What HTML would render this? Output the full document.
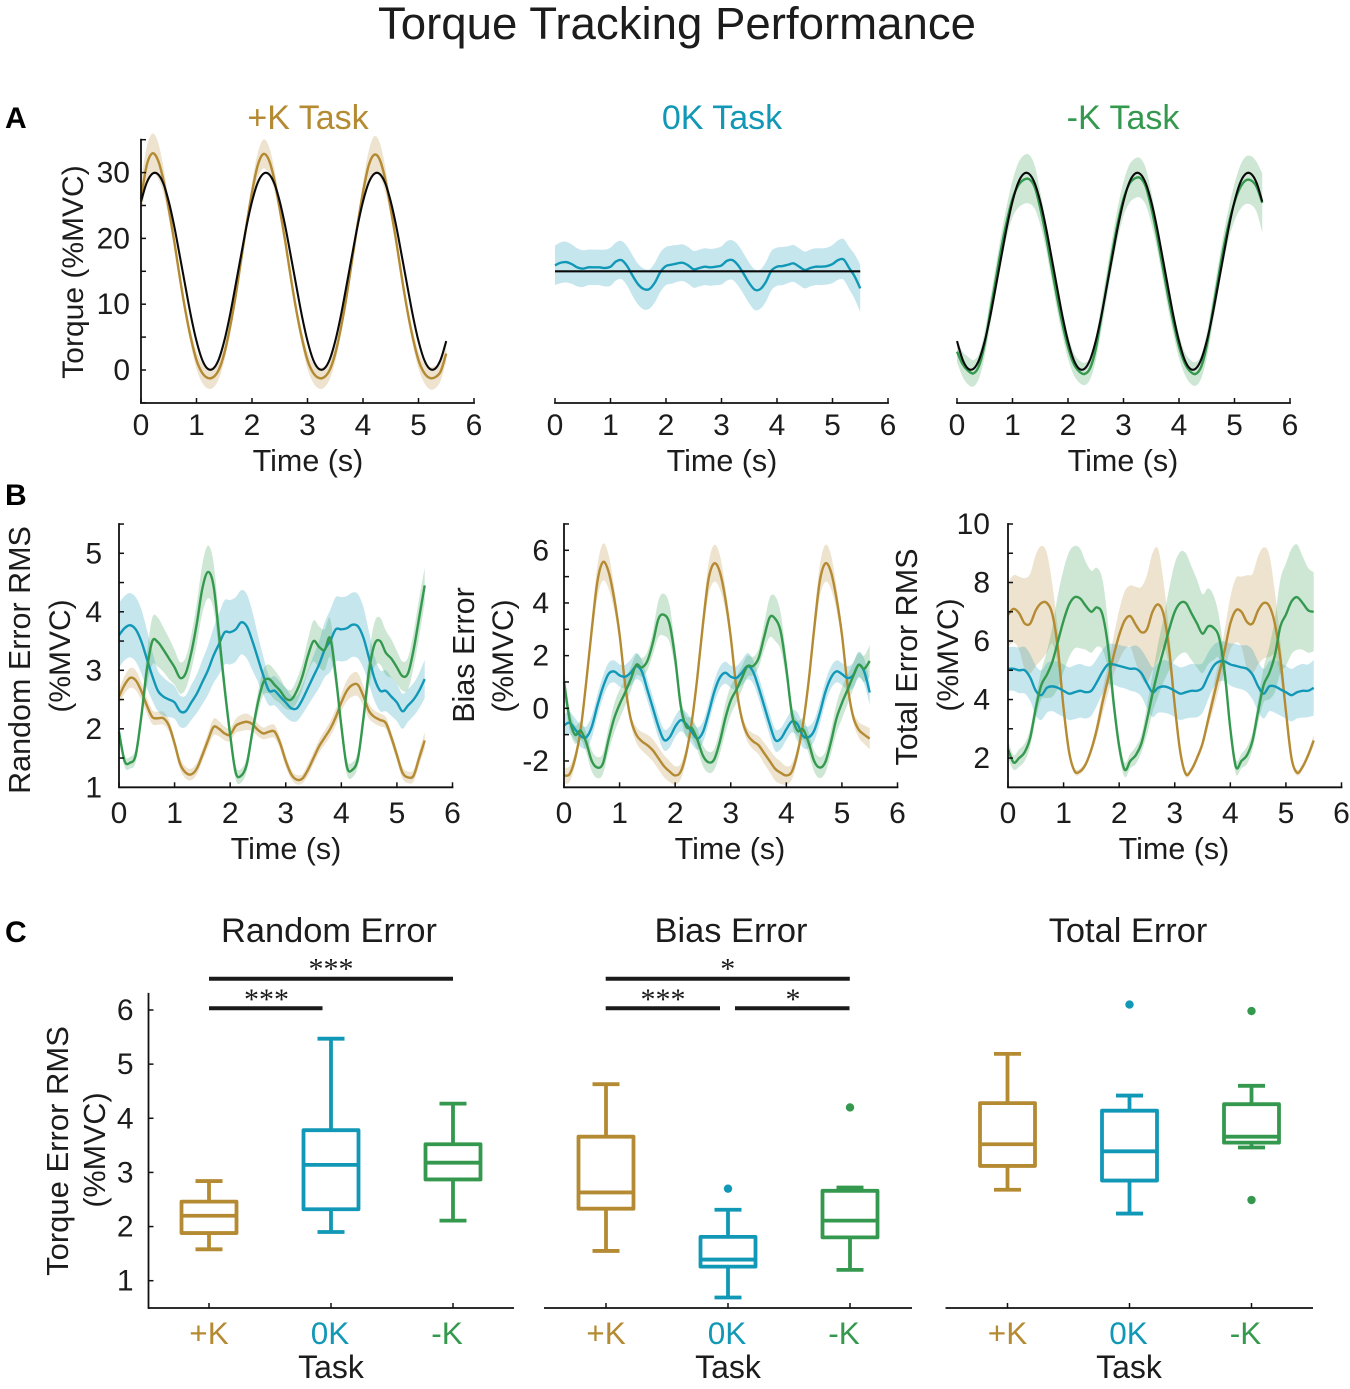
<!DOCTYPE html>
<html lang="en">
<head>
<meta charset="utf-8">
<title>Torque Tracking Performance</title>
<style>
html,body{margin:0;padding:0;background:#fff;}
svg{display:block;font-family:"Liberation Sans",sans-serif;}
</style>
</head>
<body>
<svg id="fig" xmlns="http://www.w3.org/2000/svg" width="1350" height="1389" viewBox="0 0 1350 1389"></svg>
<script>
// ---------- shared categories and tick labels ----------
const timeS=[0,.1,.2,.3,.4,.5,.6,.7,.8,.9,1,1.1,1.2,1.3,1.4,1.5,1.6,1.7,1.8,1.9,2,2.1,2.2,2.3,2.4,2.5,2.6,2.7,2.8,2.9,3,3.1,3.2,3.3,3.4,3.5,3.6,3.7,3.8,3.9,4,4.1,4.2,4.3,4.4,4.5,4.6,4.7,4.8,4.9,5,5.1,5.2,5.3,5.4,5.5];
const timeTicks=[0,1,2,3,4,5,6];
const tasks=['+K','0K','-K'];

// ---------- panel A: torque ----------
const aPlusTarget=[25.6,28.4,29.8,29.8,28.4,25.6,21.8,17.3,12.7,8.2,4.4,1.6,.2,.2,1.6,4.4,8.2,12.7,17.3,21.8,25.6,28.4,29.8,29.8,28.4,25.6,21.8,17.3,12.7,8.2,4.4,1.6,.2,.2,1.6,4.4,8.2,12.7,17.3,21.8,25.6,28.4,29.8,29.8,28.4,25.6,21.8,17.3,12.7,8.2,4.4,1.6,.2,.2,1.6,4.4];
const aPlusMean=[26,31,32.9,32,29,24.5,19.5,14,9,4.8,1.5,-.4,-1.2,-1.1,0,2.5,6.3,11,16.5,22,27,31,32.8,32,29,24.5,19.5,14,9,4.8,1.5,-.4,-1.2,-1.1,0,2.5,6.3,11,16.5,22,27,31,32.7,32,29,24.5,19.5,14,9,4.8,1.5,-.4,-1.2,-1.1,-.2,2.5];
const aPlusSd=[2.5,2.8,3,2.8,2,1.3,1,.9,1,1.1,1.3,1.5,1.6,1.6,1.4,1.2,1,.9,.9,1,1.4,1.9,2.2,2.1,1.7,1.2,1,.9,1,1.1,1.3,1.5,1.6,1.6,1.4,1.2,1,.9,.9,1,1.5,2.2,2.8,2.6,1.9,1.2,1,.9,1,1.1,1.3,1.5,1.7,1.7,1.4,1.2];
const aZeroTarget=[15,15,15,15,15,15,15,15,15,15,15,15,15,15,15,15,15,15,15,15,15,15,15,15,15,15,15,15,15,15,15,15,15,15,15,15,15,15,15,15,15,15,15,15,15,15,15,15,15,15,15,15,15,15,15,15];
const aZeroMean=[15.9,16.3,16.4,16.1,15.6,15.4,15.6,15.6,15.6,15.5,15.7,16.5,16.7,15.8,14.3,13,12.3,12.3,13.3,14.9,15.8,16,16.2,16.3,15.9,15.3,15.5,15.7,15.6,15.7,15.9,16.6,16.7,15.9,14.6,13.2,12.2,12.3,13.4,15.1,15.7,15.8,16,16.2,15.7,15.2,15.5,15.7,15.7,15.8,16.1,16.7,16.8,15.5,14.2,12.4];
const aZeroSd=[3,3.1,3.1,3,2.9,2.8,2.7,2.7,2.7,2.8,2.9,2.9,2.9,3,3.1,3.1,3.1,3,3,3,2.9,2.9,2.8,2.8,2.8,2.8,2.8,2.8,2.8,2.8,2.9,3,3,3.1,3.1,3.1,3.1,3,3,3,2.9,2.9,2.8,2.8,2.8,2.8,2.8,2.8,2.8,2.8,2.9,3,3.1,3.2,3.4,3.6];
const aMinusTarget=[4.4,1.6,.2,.2,1.6,4.4,8.2,12.7,17.3,21.8,25.6,28.4,29.8,29.8,28.4,25.6,21.8,17.3,12.7,8.2,4.4,1.6,.2,.2,1.6,4.4,8.2,12.7,17.3,21.8,25.6,28.4,29.8,29.8,28.4,25.6,21.8,17.3,12.7,8.2,4.4,1.6,.2,.2,1.6,4.4,8.2,12.7,17.3,21.8,25.6,28.4,29.8,29.8,28.4,25.6];
const aMinusMean=[2.8,.9,-.1,-.5,.7,4,8.9,13.8,18.6,22.7,26,28,28.9,29,27.8,24.6,20.5,15.8,11.2,7,3.5,1,-.2,-.6,.3,3.2,8,13,18,22.5,26,28.2,29.1,29.2,27.9,24.7,20.6,16,11.4,7.2,3.6,1.1,-.2,-.6,.5,3.7,8.6,13.6,18.4,22.4,25.5,27.7,28.8,28.8,27.8,25.4];
const aMinusSd=[1.6,1.9,2.1,2,1.9,1.9,2,2.1,2.2,2.4,2.8,3.4,3.7,3.7,3.3,2.5,2,1.9,1.9,1.8,1.8,1.7,1.7,1.7,1.7,1.8,2,2.1,2.2,2.4,2.6,2.9,3,3,2.8,2.4,2,1.9,1.9,1.8,1.8,1.7,1.8,1.8,1.8,1.9,2,2.1,2.2,2.4,2.8,3.3,3.6,3.7,3.8,4.5];

// ---------- panel B: random error ----------
const bRandomPlusMean=[2.55,2.75,2.87,2.83,2.65,2.4,2.2,2.18,2.18,2.05,1.75,1.4,1.25,1.22,1.32,1.55,1.8,2.03,2,1.92,1.9,2.05,2.1,2.12,2.08,1.98,1.92,1.95,1.95,1.75,1.45,1.22,1.13,1.15,1.3,1.5,1.7,1.85,2,2.2,2.45,2.65,2.75,2.75,2.55,2.3,2.2,2.15,2.1,1.85,1.55,1.25,1.17,1.2,1.5,1.8];
const bRandomPlusSd=[.13,.15,.17,.17,.15,.13,.12,.11,.11,.1,.1,.1,.1,.1,.1,.1,.12,.14,.13,.12,.11,.12,.14,.14,.12,.11,.1,.11,.11,.1,.1,.08,.08,.08,.1,.1,.11,.12,.13,.14,.15,.18,.2,.2,.17,.13,.11,.11,.1,.1,.1,.1,.1,.1,.12,.14];
const bRandomZeroMean=[3.6,3.72,3.77,3.7,3.5,3.2,2.9,2.65,2.55,2.5,2.45,2.3,2.3,2.45,2.6,2.8,3,3.25,3.45,3.65,3.65,3.7,3.82,3.75,3.5,3.2,2.9,2.65,2.65,2.55,2.45,2.35,2.35,2.5,2.7,2.9,3.1,3.35,3.5,3.7,3.7,3.72,3.78,3.75,3.55,3.2,2.85,2.65,2.65,2.55,2.45,2.3,2.4,2.5,2.65,2.85];
const bRandomZeroSd=[.55,.55,.55,.55,.55,.5,.42,.35,.33,.3,.28,.27,.27,.3,.33,.38,.42,.47,.52,.55,.55,.55,.55,.55,.5,.4,.32,.25,.25,.25,.25,.22,.22,.25,.3,.35,.4,.47,.53,.55,.55,.55,.55,.55,.52,.45,.38,.35,.35,.33,.32,.3,.28,.28,.3,.33];
const bRandomMinusMean=[1.95,1.45,1.42,1.55,2.2,3,3.5,3.48,3.35,3.2,3.05,2.87,2.95,3.3,3.8,4.4,4.68,4.45,3.6,2.7,1.9,1.25,1.2,1.4,1.95,2.45,2.8,2.85,2.75,2.65,2.52,2.5,2.65,2.9,3.25,3.5,3.4,3.35,3.55,2.9,2.05,1.35,1.3,1.5,2.2,3,3.45,3.5,3.3,3.2,3.05,2.9,2.95,3.35,3.9,4.45];
const bRandomMinusSd=[.1,.1,.1,.12,.15,.28,.4,.42,.38,.35,.3,.27,.27,.3,.35,.42,.45,.4,.3,.2,.15,.12,.12,.12,.14,.18,.22,.25,.25,.22,.18,.17,.2,.22,.28,.35,.35,.35,.33,.2,.15,.13,.13,.13,.18,.28,.38,.4,.38,.33,.28,.25,.27,.3,.33,.3];

// ---------- panel B: bias error ----------
const bBiasPlusMean=[-2.55,-2.5,-1.9,-.8,1,3,4.8,5.55,5.2,4.2,2.8,.9,-.4,-1,-1.25,-1.4,-1.6,-1.9,-2.2,-2.4,-2.55,-2.4,-1.7,-.5,1.2,3.2,4.9,5.5,5.2,4.2,2.7,.8,-.4,-1,-1.25,-1.4,-1.7,-2,-2.3,-2.45,-2.55,-2.4,-1.7,-.6,1,3,4.8,5.5,5.2,4.2,2.8,.9,-.3,-.8,-1,-1.15];
const bBiasPlusSd=[.3,.3,.25,.2,.25,.4,.6,.7,.65,.45,.3,.2,.2,.3,.35,.4,.42,.42,.42,.4,.35,.3,.25,.2,.25,.4,.6,.7,.65,.45,.3,.2,.2,.25,.3,.35,.4,.42,.45,.42,.35,.3,.25,.2,.25,.4,.6,.7,.65,.45,.3,.2,.2,.3,.35,.4];
const bBiasZeroMean=[-.65,-.55,-.8,-1.05,-1.1,-.7,.1,.8,1.3,1.4,1.25,1.2,1.35,1.6,1.4,.7,0,-.7,-1.2,-1.1,-.7,-.45,-.6,-.9,-1.15,-.9,-.2,.6,1.15,1.35,1.2,1.15,1.35,1.6,1.4,.8,.1,-.6,-1.2,-1.15,-.8,-.5,-.6,-1.05,-1.1,-.85,-.2,.6,1.15,1.4,1.3,1.15,1.25,1.65,1.4,.6];
const bBiasZeroSd=[.42,.42,.42,.42,.42,.42,.42,.42,.42,.42,.42,.45,.5,.5,.45,.42,.42,.42,.4,.4,.4,.42,.45,.45,.42,.4,.4,.42,.42,.42,.42,.45,.48,.5,.45,.42,.42,.42,.42,.4,.4,.42,.45,.45,.42,.4,.42,.42,.42,.42,.42,.45,.48,.5,.48,.45];
const bBiasMinusMean=[1,-.4,-1,-.85,-1.3,-2,-2.25,-2.1,-1.2,-.4,.15,.6,1.1,1.65,1.55,1.8,2.5,3.4,3.55,3.2,1.9,.1,-.7,-.75,-1.2,-1.8,-2.05,-1.95,-1.3,-.4,.3,.7,1.15,1.6,1.6,1.9,2.7,3.45,3.4,2.9,1.5,-.2,-.85,-.8,-1.3,-2,-2.25,-2.05,-1.3,-.4,.2,.7,1.2,1.65,1.5,1.8];
const bBiasMinusSd=[.5,.4,.35,.35,.38,.4,.4,.4,.45,.55,.55,.5,.45,.4,.35,.35,.45,.7,.8,.7,.45,.35,.4,.4,.4,.4,.4,.4,.45,.55,.55,.5,.45,.4,.35,.35,.5,.75,.85,.7,.45,.35,.4,.4,.4,.4,.4,.4,.45,.55,.6,.55,.5,.45,.5,.6];

// ---------- panel B: total error ----------
const bTotalPlusMean=[6.9,7.1,6.95,6.6,6.6,7.05,7.3,7.3,6.9,5.7,3.7,2.2,1.55,1.55,1.8,2.3,3,3.9,4.7,5.5,6.2,6.7,6.85,6.55,6.3,6.4,7,7.25,6.9,5.7,3.8,2.2,1.45,1.6,2,2.5,3.3,4.1,4.9,5.7,6.6,7.05,7,6.65,6.6,7.05,7.3,7.2,6.6,5.4,3.6,2,1.5,1.7,2.1,2.6];
const bTotalPlusSd=[1.1,1.15,1.25,1.55,1.7,1.9,1.95,1.7,1,.6,.3,.15,.1,.1,.1,.15,.25,.4,.5,.65,.85,1,1.05,1.3,1.55,1.85,2,1.9,1.1,.6,.3,.15,.1,.1,.12,.15,.25,.4,.5,.7,.9,1.1,1.2,1.6,1.7,1.85,1.9,1.75,1.1,.6,.3,.15,.1,.1,.12,.2];
const bTotalZeroMean=[5.05,5.05,5,5,4.75,4.3,4.15,4.4,4.45,4.4,4.3,4.2,4.25,4.3,4.25,4.3,4.6,4.95,5.2,5.2,5.15,5.1,5.05,5.05,4.9,4.55,4.25,4.4,4.45,4.4,4.3,4.2,4.25,4.3,4.3,4.4,4.8,5.15,5.3,5.3,5.2,5.15,5.1,5.05,4.85,4.45,4.2,4.45,4.45,4.35,4.25,4.15,4.25,4.3,4.3,4.4];
const bTotalZeroSd=[.75,.75,.78,.8,.8,.85,.85,.85,.85,.9,.9,.9,.92,.92,.9,.85,.8,.75,.7,.7,.72,.72,.75,.8,.8,.85,.85,.85,.9,.9,.9,.9,.9,.92,.9,.85,.8,.72,.68,.68,.72,.75,.75,.8,.85,.85,.85,.85,.9,.9,.9,.9,.9,.92,.9,.95];
const bTotalMinusMean=[2.3,1.85,2,2.2,2.7,3.7,4.5,4.85,5.3,6,6.7,7.25,7.5,7.45,7.2,7,7.15,6.9,5.8,3.9,2.4,1.6,1.9,2.1,2.5,3.3,4.2,5,5.7,6.4,7,7.3,7.3,6.95,6.6,6.25,6.5,6.45,6.1,4.9,3,1.7,1.9,2.1,2.6,3.6,4.5,4.9,5.5,6.5,6.9,7.35,7.5,7.3,7.05,7];
const bTotalMinusSd=[.3,.25,.3,.3,.3,.35,.5,.8,1.2,1.6,1.75,1.8,1.75,1.7,1.5,1.4,1.35,1.2,.8,.4,.3,.25,.25,.3,.3,.5,.65,.9,1.1,1.4,1.65,1.75,1.7,1.6,1.5,1.35,1.3,1.1,.7,.4,.3,.25,.25,.3,.3,.4,.6,.9,1.25,1.6,1.75,1.8,1.8,1.6,1.45,1.35];

// ---------- panel C: box plot statistics ----------
const cRandomHigh=[2.84,5.47,4.27];
const cRandomQ3=[2.46,3.78,3.52];
const cRandomMedian=[2.2,3.14,3.18];
const cRandomQ1=[1.88,2.32,2.87];
const cRandomLow=[1.58,1.9,2.11];
const cRandomOutliers=[[],[],[]];
const cBiasHigh=[4.63,2.31,2.72];
const cBiasQ3=[3.66,1.81,2.66];
const cBiasMedian=[2.63,1.39,2.11];
const cBiasQ1=[2.33,1.26,1.8];
const cBiasLow=[1.55,.69,1.2];
const cBiasOutliers=[[],[2.7],[4.2]];
const cTotalHigh=[5.19,4.42,4.6];
const cTotalQ3=[4.28,4.14,4.26];
const cTotalMedian=[3.52,3.39,3.66];
const cTotalQ1=[3.12,2.85,3.55];
const cTotalLow=[2.68,2.24,3.46];
const cTotalOutliers=[[],[6.1],[5.98,2.49]];

// ---------- styling ----------
const ORANGE='#b48a32', BLUE='#1198b6', GREEN='#34994e', INK='#1c1c1c', AXIS='#111111';
const taskColors=[ORANGE,BLUE,GREEN];
const labelOffsets=[0,-1,-6];
const svg=document.getElementById('fig');
const NS='http://www.w3.org/2000/svg';

function addText(str,x,y,size,fill,anchor,name,rot,weight,family){
  const t=document.createElementNS(NS,'text');
  
  
  t.setAttribute('x',x);
  t.setAttribute('y',y);
  t.setAttribute('font-size',size);
  t.setAttribute('fill',fill);
  t.setAttribute('text-anchor',anchor);
  if(rot!==undefined&&rot!==null)t.setAttribute('transform','rotate('+rot+' '+x+' '+y+')');
  if(weight)t.setAttribute('font-weight',weight);
  if(family)t.setAttribute('font-family',family);
  t.textContent=str;
  svg.appendChild(t);
  return t;
}
function addLine(x1,y1,x2,y2,stroke,w,name){
  const l=document.createElementNS(NS,'line');
  
  
  l.setAttribute('x1',x1);
  l.setAttribute('y1',y1);
  l.setAttribute('x2',x2);
  l.setAttribute('y2',y2);
  l.setAttribute('stroke',stroke);
  l.setAttribute('stroke-width',w);
  svg.appendChild(l);
  return l;
}
function smoothSegs(pts,move){
  let d=(move?'M':'L')+pts[0][0].toFixed(2)+' '+pts[0][1].toFixed(2);
  for(let i=0;i<pts.length-1;i++){
    const p0=pts[Math.max(i-1,0)],p1=pts[i],p2=pts[i+1],p3=pts[Math.min(i+2,pts.length-1)];
    const c1x=p1[0]+(p2[0]-p0[0])/6,c1y=p1[1]+(p2[1]-p0[1])/6;
    const c2x=p2[0]-(p3[0]-p1[0])/6,c2y=p2[1]-(p3[1]-p1[1])/6;
    d+='C'+c1x.toFixed(2)+' '+c1y.toFixed(2)+' '+c2x.toFixed(2)+' '+c2y.toFixed(2)+' '+p2[0].toFixed(2)+' '+p2[1].toFixed(2);
  }
  return d;
}
function addBand(xs,ys,mean,sd,color,name){
  const upper=timeS.map((t,i)=>[xs(t),ys(mean[i]+sd[i])]);
  const lower=timeS.map((t,i)=>[xs(t),ys(mean[i]-sd[i])]).reverse();
  const p=document.createElementNS(NS,'path');
  
  
  p.setAttribute('d',smoothSegs(upper,true)+smoothSegs(lower,false)+'Z');
  p.setAttribute('fill',color);
  p.setAttribute('fill-opacity','0.24');
  svg.appendChild(p);
}
function addCurve(xs,ys,mean,color,w,name){
  const pts=timeS.map((t,i)=>[xs(t),ys(mean[i])]);
  const p=document.createElementNS(NS,'path');
  
  
  p.setAttribute('d',smoothSegs(pts,true));
  p.setAttribute('fill','none');
  p.setAttribute('stroke',color);
  p.setAttribute('stroke-width',w);
  svg.appendChild(p);
}
function linear(d0,d1,r0,r1){return v=>r0+(v-d0)*(r1-r0)/(d1-d0);}

function timeAxis(xs,yBase,tickBaseline,labelBaseline,labelX,prefix){
  addLine(xs(0)-.9,yBase,xs(6)+.9,yBase,AXIS,1.8,prefix+'-x-axis');
  timeTicks.forEach(v=>{
    addLine(xs(v),yBase,xs(v),yBase-5,AXIS,1.5,prefix+'-x-tick-'+v);
    addText(String(v),xs(v),tickBaseline,30,INK,'middle',prefix+'-x-tick-label-'+v);
  });
  addText('Time (s)',labelX,labelBaseline,30.5,INK,'middle',prefix+'-x-axis-title');
}
function valueAxis(x,ys,domTop,domBottom,ticks,labels,labelGap,prefix){
  addLine(x,ys(domTop)-.9,x,ys(domBottom),AXIS,1.8,prefix+'-y-axis');
  ticks.forEach(v=>{
    addLine(x,ys(v),x+5,ys(v),AXIS,1.5,prefix+'-y-tick-'+v);
  });
  labels.forEach(v=>{
    addText(String(v),x-labelGap,ys(v)+10,30,INK,'end',prefix+'-y-tick-label-'+v);
  });
}

// ---------- static titles ----------
addText('Torque Tracking Performance',677,39,45.6,INK,'middle','figure-title');
addText('A',5,128,30,'#000','start','panel-label-a',null,'bold');
addText('B',5,505,30,'#000','start','panel-label-b',null,'bold');
addText('C',5,942,30,'#000','start','panel-label-c',null,'bold');

// ---------- panel A ----------
const aTicks=[-5,0,5,10,15,20,25,30,35];
const aLabels=[0,10,20,30];
const aY=linear(0,30,370,172.6);
function drawA(x0,mean,sd,target,color,title,titleX,prefix,hasYAxis){
  const xs=linear(0,6,x0,x0+333);
  addBand(xs,aY,mean,sd,color,prefix+'-band');
  addCurve(xs,aY,mean,color,2.4,prefix+'-mean-line');
  addCurve(xs,aY,target,'#0a0a0a',2.1,prefix+'-target-line');
  timeAxis(xs,403,435,471,titleX,prefix);
  if(hasYAxis)valueAxis(x0,aY,35,-5,aTicks,aLabels,11,prefix);
  addText(title,titleX,129,34,color,'middle',prefix+'-title');
}
drawA(141,aPlusMean,aPlusSd,aPlusTarget,ORANGE,'+K Task',308,'torque-plus-k',true);
drawA(555,aZeroMean,aZeroSd,aZeroTarget,BLUE,'0K Task',722,'torque-zero-k',false);
drawA(957,aMinusMean,aMinusSd,aMinusTarget,GREEN,'-K Task',1123,'torque-minus-k',false);
addText('Torque (%MVC)',83,272,30,INK,'middle','torque-y-axis-title',-90);

// ---------- panel B ----------
function drawB(x0,ys,top,bottom,ticks,labels,gap,series,labelX,prefix){
  const xs=linear(0,6,x0,x0+333.5);
  const keys=['plus-k','zero-k','minus-k'];
  series.forEach((s,i)=>addBand(xs,ys,s[0],s[1],taskColors[i],prefix+'-'+keys[i]+'-band'));
  series.forEach((s,i)=>addCurve(xs,ys,s[0],taskColors[i],2.4,prefix+'-'+keys[i]+'-line'));
  timeAxis(xs,787.3,823,859,labelX,prefix);
  valueAxis(x0,ys,top,bottom,ticks,labels,gap,prefix);
}
drawB(119,linear(1,5,787.3,553.3),5.5,1,[1,1.5,2,2.5,3,3.5,4,4.5,5,5.5],[1,2,3,4,5],17,
  [[bRandomPlusMean,bRandomPlusSd],[bRandomZeroMean,bRandomZeroSd],[bRandomMinusMean,bRandomMinusSd]],286,'random-error');
drawB(564,linear(-3,6,787.3,550.3),7,-3,[-3,-2,-1,0,1,2,3,4,5,6,7],[-2,0,2,4,6],15,
  [[bBiasPlusMean,bBiasPlusSd],[bBiasZeroMean,bBiasZeroSd],[bBiasMinusMean,bBiasMinusSd]],730,'bias-error');
drawB(1008,linear(1,10,787.3,524),10,1,[1,2,3,4,5,6,7,8,9,10],[2,4,6,8,10],18,
  [[bTotalPlusMean,bTotalPlusSd],[bTotalZeroMean,bTotalZeroSd],[bTotalMinusMean,bTotalMinusSd]],1174,'total-error');
addText('Random Error RMS',30,660,30.5,INK,'middle','random-error-y-title',-90);
addText('(%MVC)',70,656,30,INK,'middle','random-error-y-unit',-90);
addText('Bias Error',474,655,30.5,INK,'middle','bias-error-y-title',-90);
addText('(%MVC)',513,656,30,INK,'middle','bias-error-y-unit',-90);
addText('Total Error RMS',917,657,30.5,INK,'middle','total-error-y-title',-90);
addText('(%MVC)',958,655,30,INK,'middle','total-error-y-unit',-90);

// ---------- panel C ----------
const cY=linear(1,6,1280.7,1010);
const cYTicks=[1,2,3,4,5,6];
function drawBoxes(firstX,axisL,axisR,high,q3,med,q1,low,outliers,title,titleX,taskX,prefix){
  const cx=linear(0,2,firstX,firstX+244);
  addLine(axisL,1308,axisR,1308,AXIS,1.8,prefix+'-x-axis');
  tasks.forEach((task,i)=>{
    const c=cx(i),col=taskColors[i];
    addLine(c,cY(high[i]),c,cY(q3[i]),col,3.8,prefix+'-'+task+'-upper-whisker');
    addLine(c-13.5,cY(high[i]),c+13.5,cY(high[i]),col,3.8,prefix+'-'+task+'-upper-cap');
    addLine(c,cY(q1[i]),c,cY(low[i]),col,3.8,prefix+'-'+task+'-lower-whisker');
    addLine(c-13.5,cY(low[i]),c+13.5,cY(low[i]),col,3.8,prefix+'-'+task+'-lower-cap');
    const r=document.createElementNS(NS,'rect');
    
    
    r.setAttribute('x',c-27.5);
    r.setAttribute('y',cY(q3[i]));
    r.setAttribute('width',55);
    r.setAttribute('height',cY(q1[i])-cY(q3[i]));
    r.setAttribute('fill','none');
    r.setAttribute('stroke',col);
    r.setAttribute('stroke-width',3.8);
    r.setAttribute('stroke-linejoin','round');
    svg.appendChild(r);
    addLine(c-27.5,cY(med[i]),c+27.5,cY(med[i]),col,3.8,prefix+'-'+task+'-median');
    outliers[i].forEach(v=>{
      const o=document.createElementNS(NS,'circle');
      
      
      o.setAttribute('cx',c);
      o.setAttribute('cy',cY(v));
      o.setAttribute('r',4.2);
      o.setAttribute('fill',col);
      svg.appendChild(o);
    });
    addLine(c,1308,c,1303,AXIS,1.5,prefix+'-'+task+'-tick');
    addText(task,c+labelOffsets[i],1344,31.5,col,'middle',prefix+'-'+task+'-tick-label');
  });
  addText('Task',taskX,1378,32,INK,'middle',prefix+'-x-axis-title');
  addText(title,titleX,942,34.4,INK,'middle',prefix+'-title');
}
drawBoxes(209,148,514,cRandomHigh,cRandomQ3,cRandomMedian,cRandomQ1,cRandomLow,cRandomOutliers,'Random Error',329,331,'box-random');
drawBoxes(606,544,912,cBiasHigh,cBiasQ3,cBiasMedian,cBiasQ1,cBiasLow,cBiasOutliers,'Bias Error',731,728,'box-bias');
drawBoxes(1007.5,945.5,1313,cTotalHigh,cTotalQ3,cTotalMedian,cTotalQ1,cTotalLow,cTotalOutliers,'Total Error',1128,1129,'box-total');
valueAxis(148.5,cY,6.3,.48,cYTicks,cYTicks,15,'box-random');
addText('Torque Error RMS',68,1151,31,INK,'middle','box-y-axis-title',-90);
addText('(%MVC)',105,1150,30.5,INK,'middle','box-y-axis-unit',-90);

// ---------- significance brackets ----------
addLine(209,978.7,453,978.7,'#1a1a1a',4,'sig-bar-random-plus-minus');
addLine(209,1008.3,322.5,1008.3,'#1a1a1a',4,'sig-bar-random-plus-zero');
addLine(605.7,978.7,849.8,978.7,'#1a1a1a',4,'sig-bar-bias-plus-minus');
addLine(605.7,1008.3,720,1008.3,'#1a1a1a',4,'sig-bar-bias-plus-zero');
addLine(735,1008.3,849.5,1008.3,'#1a1a1a',4,'sig-bar-bias-zero-minus');
const starFont='"Liberation Serif",serif';
addText('***',331,978.5,30,'#1a1a1a','middle','sig-stars-random-plus-minus',null,null,starFont);
addText('***',266.5,1009,30,'#1a1a1a','middle','sig-stars-random-plus-zero',null,null,starFont);
addText('*',727.7,978.5,30,'#1a1a1a','middle','sig-star-bias-plus-minus',null,null,starFont);
addText('***',663,1009,30,'#1a1a1a','middle','sig-stars-bias-plus-zero',null,null,starFont);
addText('*',793,1009,30,'#1a1a1a','middle','sig-star-bias-zero-minus',null,null,starFont);
</script>
</body>
</html>
